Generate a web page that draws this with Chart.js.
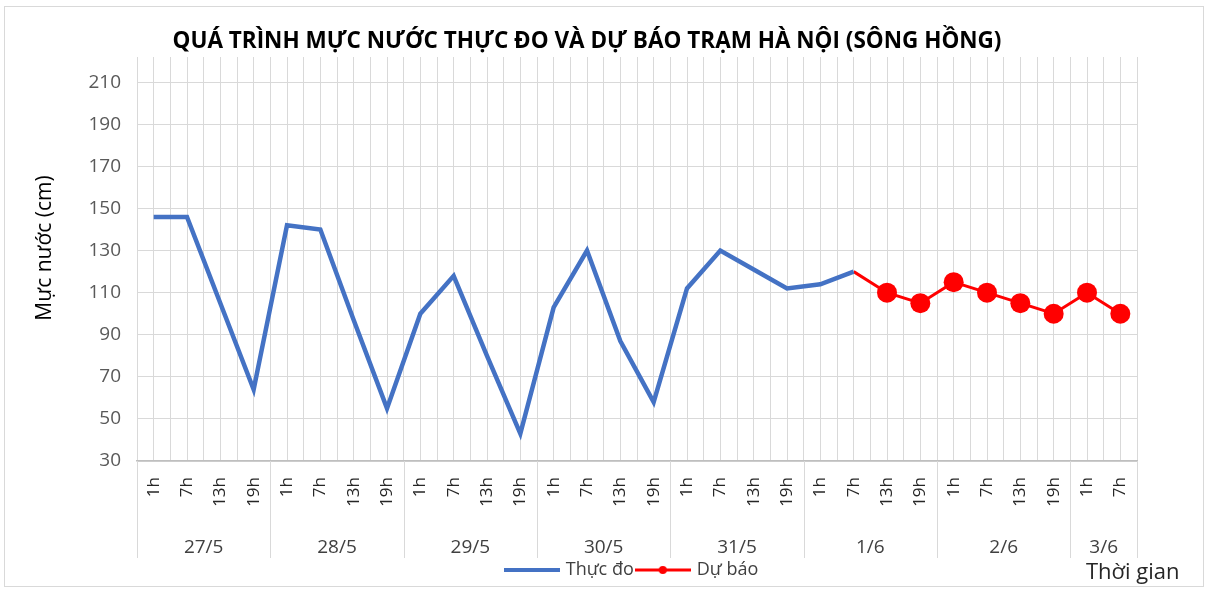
<!DOCTYPE html>
<html>
<head>
<meta charset="utf-8">
<script src="https://cdn.jsdelivr.net/npm/chart.js@4"></script>
<style>
  html, body { margin: 0; padding: 0; background: #fff; }
  #wrap { width: 1207px; height: 589px; position: relative; }
</style>
</head>
<body>
<div id="wrap"><canvas id="myChart"></canvas></div>
<script>
const hourLabels = [
    '1h', '7h', '13h', '19h', '1h', '7h', '13h', '19h',
    '1h', '7h', '13h', '19h', '1h', '7h', '13h', '19h',
    '1h', '7h', '13h', '19h', '1h', '7h', '13h', '19h',
    '1h', '7h', '13h', '19h', '1h', '7h'
];
const dateLabels = ['27/5', '28/5', '29/5', '30/5', '31/5', '1/6', '2/6', '3/6'];
const dateSpans = [4, 4, 4, 4, 4, 4, 4, 2];

const thucDo = [
    146, 146, 105, 64, 142, 140, 97, 55,
    100, 118, 80, 43, 103, 130, 87, 58,
    112, 130, 121, 112, 114, 120, null, null,
    null, null, null, null, null, null
];
const duBao = [
    null, null, null, null, null, null, null, null,
    null, null, null, null, null, null, null, null,
    null, null, null, null, null, 120, 110, 105,
    115, 110, 105, 100, 110, 100
];
const yTicks = [30, 50, 70, 90, 110, 130, 150, 170, 190, 210];

const chartTitle = 'QUÁ TRÌNH MỰC NƯỚC THỰC ĐO VÀ DỰ BÁO TRẠM HÀ NỘI (SÔNG HỒNG)';
const yTitle = 'Mực nước (cm)';
const xTitle = 'Thời gian';

// group boundaries and centres for the date row
let bounds = [0];
dateSpans.forEach((n) => bounds.push(bounds[bounds.length - 1] + n));
const centres = dateSpans.map((n, i) => bounds[i] + n / 2);

const FONT = "'Open Sans', 'Noto Sans', sans-serif";

// small legend swatches
const makeSwatch = (color, width, dot) => {
    const c = document.createElement('canvas');
    c.width = 56; c.height = 14;
    const g = c.getContext('2d');
    g.strokeStyle = color;
    g.lineWidth = width;
    g.beginPath(); g.moveTo(0, 7); g.lineTo(56, 7); g.stroke();
    if (dot) {
        g.fillStyle = color;
        g.beginPath(); g.arc(28, 7, 4, 0, Math.PI * 2); g.fill();
    }
    return c;
};
const blueSwatch = makeSwatch('#4472C4', 4, false);
const redSwatch = makeSwatch('#FF0000', 3, true);

const extrasPlugin = {
    id: 'extras',
    beforeDraw(chart) {
        const ctx = chart.ctx;
        ctx.save();
        ctx.fillStyle = '#fff';
        ctx.fillRect(0, 0, chart.width, chart.height);
        ctx.strokeStyle = '#d9d9d9';
        ctx.lineWidth = 1;
        ctx.strokeRect(4.5, 6.5, 1199, 580);
        ctx.restore();
    },
    afterDraw(chart) {
        const ctx = chart.ctx;
        const xd = chart.scales.xDate;
        const area = chart.chartArea;
        ctx.save();
        // separators between date groups
        ctx.strokeStyle = '#d9d9d9';
        ctx.lineWidth = 1;
        bounds.forEach((b) => {
            const px = Math.round(xd.getPixelForValue(b)) + 0.5;
            ctx.beginPath();
            ctx.moveTo(px, area.bottom);
            ctx.lineTo(px, 558);
            ctx.stroke();
        });
        // title
        ctx.fillStyle = '#000';
        ctx.font = "bold 22.5px " + FONT;
        ctx.textAlign = 'center';
        ctx.textBaseline = 'middle';
        ctx.fillText(chartTitle, 587, 42);
        // y title
        ctx.save();
        ctx.translate(45, 248);
        ctx.rotate(-Math.PI / 2);
        ctx.font = "21px " + FONT;
        ctx.fillStyle = '#000';
        ctx.fillText(yTitle, 0, 0);
        ctx.restore();
        // x title
        ctx.font = "22px " + FONT;
        ctx.fillStyle = '#262626';
        ctx.textAlign = 'left';
        ctx.fillText(xTitle, 1086, 573);
        ctx.restore();
    }
};

const data = {
    labels: hourLabels,
    datasets: [
        {
            label: 'Thực đo',
            data: thucDo,
            borderColor: '#4472C4',
            backgroundColor: '#4472C4',
            borderWidth: 4.5,
            pointRadius: 0,
            tension: 0
        },
        {
            label: 'Dự báo',
            data: duBao,
            borderColor: '#FF0000',
            backgroundColor: '#FF0000',
            borderWidth: 3,
            pointRadius: duBao.map((v, i) => (i === 21 ? 0 : 10)),
            pointBorderWidth: 0,
            pointStyle: 'circle',
            tension: 0
        }
    ]
};

const config = {
    type: 'line',
    data: data,
    plugins: [extrasPlugin],
    options: {
        responsive: true,
        maintainAspectRatio: false,
        animation: false,
        layout: { padding: { left: 64, right: 6, top: 57, bottom: 0 } },
        plugins: {
            title: { display: false },
            tooltip: { enabled: false },
            legend: {
                position: 'bottom',
                labels: {
                    usePointStyle: true,
                    pointStyleWidth: 50,
                    color: '#404040',
                    font: { family: FONT, size: 18 },
                    padding: 4,
                    generateLabels: (chart) => chart.data.datasets.map((ds, i) => ({
                        text: ds.label,
                        pointStyle: i === 0 ? blueSwatch : redSwatch,
                        fontColor: '#404040',
                        datasetIndex: i,
                        lineWidth: 0,
                        strokeStyle: 'transparent',
                        fillStyle: 'transparent'
                    }))
                }
            }
        },
        scales: {
            x: {
                type: 'category',
                offset: true,
                position: 'bottom',
                grid: { color: '#d9d9d9', offset: true, drawTicks: true, tickLength: 12, tickColor: 'rgba(0,0,0,0)' },
                border: { color: '#bfbfbf', width: 1.5 },
                ticks: {
                    minRotation: 90, maxRotation: 90, autoSkip: false,
                    color: '#262626',
                    font: { family: FONT, size: 17 },
                    padding: 4
                },
                afterFit: (s) => { s.height = 58; }
            },
            x2: {
                type: 'category',
                offset: true,
                position: 'bottom',
                grid: { color: '#d9d9d9', offset: false, drawTicks: false },
                border: { display: false },
                ticks: { display: false },
                afterFit: (s) => { s.height = 0; }
            },
            xDate: {
                type: 'linear',
                position: 'bottom',
                min: 0,
                max: bounds[bounds.length - 1],
                grid: { display: false },
                border: { display: false },
                afterBuildTicks: (s) => { s.ticks = centres.map((v) => ({ value: v })); },
                ticks: {
                    autoSkip: false,
                    maxRotation: 0,
                    color: '#404040',
                    font: { family: FONT, size: 19 },
                    padding: 9,
                    callback: (v, i) => dateLabels[i]
                },
                afterFit: (s) => { s.height = 38; }
            },
            y: {
                min: 30,
                max: 222,
                afterBuildTicks: (s) => { s.ticks = yTicks.map((v) => ({ value: v })); },
                grid: { color: '#d9d9d9', drawTicks: false },
                border: { display: false },
                ticks: {
                    color: '#595959',
                    font: { family: FONT, size: 19 },
                    padding: 16
                },
                afterFit: (s) => { s.width = 73; }
            },
            // empty right-hand strip, keeps the legend centred like the original
            yRight: {
                type: 'linear',
                position: 'right',
                grid: { display: false },
                border: { display: false },
                ticks: { display: false },
                afterFit: (s) => { s.width = 64; }
            }
        }
    }
};

const myChart = new Chart(document.getElementById('myChart'), config);
</script>
</body>
</html>
